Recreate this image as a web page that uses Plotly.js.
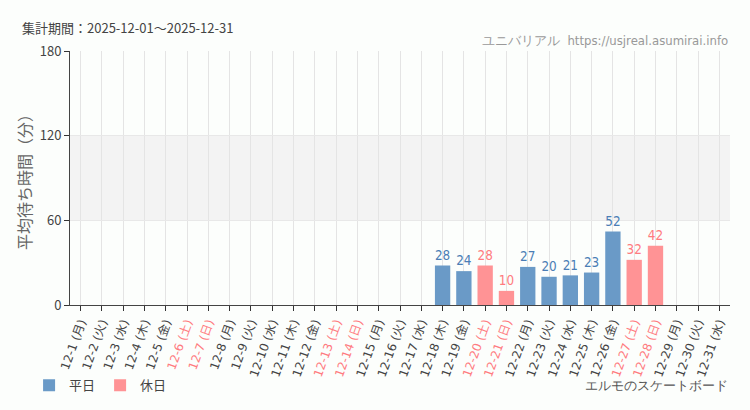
<!DOCTYPE html>
<html><head><meta charset="utf-8">
<script src="https://cdn.plot.ly/plotly-3.0.1.min.js"></script>
<style>body{margin:0;background:#fcfefc}#c{width:750px;height:410px}</style>
</head><body><div id="c"></div>
<script>
const days = Array.from({length:31},(_,i)=>'12-'+(i+1));
const weekdays = ['月','火','水','木','金','土','日','月','火','水','木','金','土','日','月','火','水','木','金','土','日','月','火','水','木','金','土','日','月','火','水'];
const holiday = [0,0,0,0,0,1,1,0,0,0,0,0,1,1,0,0,0,0,0,1,1,0,0,0,0,0,1,1,0,0,0];
const waits = [null,null,null,null,null,null,null,null,null,null,null,null,null,null,null,null,null,28,24,28,10,27,20,21,23,52,32,42,null,null,null];

const BLUE='#6a9ac7', PINK='#ff9395', BLUE_T='#4a7db5', PINK_T='#ff7b80';
const ticktext = days.map((d,i)=>{
  const t = d+' ('+weekdays[i]+')';
  return holiday[i] ? '<span style="color:'+PINK_T+'">'+t+'</span>' : t;
});
const wk = waits.map((v,i)=>holiday[i]?null:v);
const hd = waits.map((v,i)=>holiday[i]?v:null);
const cond = 'DejaVu Sans Condensed';
const mk = (y,name,c,tc)=>({type:'bar',x:days,y:y,name:name,marker:{color:c},width:0.72,
  text:y.map(v=>v==null?'':String(v)),textposition:'outside',cliponaxis:false,
  textfont:{family:cond,size:14,color:tc},hoverinfo:'none'});
const data=[mk(wk,'平日',BLUE,BLUE_T),mk(hd,'休日',PINK,PINK_T)];
const layout={
  width:750,height:410,paper_bgcolor:'#fcfefc',plot_bgcolor:'#fcfefc',
  margin:{l:70,r:20,t:51,b:105,autoexpand:false},barmode:'overlay',
  font:{family:'"Noto Sans CJK JP","DejaVu Sans",sans-serif',color:'#444'},
  xaxis:{type:'category',tickmode:'array',tickvals:days,ticktext:ticktext,tickangle:-70,automargin:false,
    tickfont:{family:'"DejaVu Sans","Noto Sans CJK JP",sans-serif',size:12,color:'#444'},showline:true,linecolor:'#444',linewidth:1,ticks:'outside',ticklen:5,tickcolor:'#333',
    showgrid:true,gridcolor:'#e4e4e4',range:[-0.5,30.5],fixedrange:true},
  yaxis:{range:[0,180],tickvals:[0,60,120,180],ticks:'outside',ticklen:5,tickcolor:'#333',showline:true,linecolor:'#444',automargin:false,
    tickfont:{size:13,color:'#444'},gridcolor:'#e8e8e8',zeroline:false,
    title:{text:'平均待ち時間（分）',font:{size:16,color:'#666'},standoff:4}},
  shapes:[{type:'rect',xref:'paper',x0:0,x1:1,yref:'y',y0:60,y1:120,fillcolor:'#f3f3f3',line:{width:0},layer:'below'}],
  showlegend:true,legend:{orientation:'h',x:-0.062,xref:'paper',y:-0.257,yref:'paper',yanchor:'top',font:{size:13,color:'#444'}},
  annotations:[
    {text:'集計期間：2025-12-01～2025-12-31',xref:'paper',yref:'paper',x:-0.076,y:1.094,xanchor:'left',yanchor:'middle',showarrow:false,font:{size:13,color:'#444'}},
    {text:'ユニバリアル  https://usjreal.asumirai.info',xref:'paper',yref:'paper',x:1,y:1.043,xanchor:'right',yanchor:'middle',showarrow:false,font:{family:cond,size:13,color:'#999'}},
    {text:'エルモのスケートボード',xref:'paper',yref:'paper',x:1,y:-0.315,xanchor:'right',yanchor:'middle',showarrow:false,font:{family:cond,size:13,color:'#555'}}
  ]
};
Plotly.newPlot('c',data,layout,{displayModeBar:false,staticPlot:true});
</script></body></html>
